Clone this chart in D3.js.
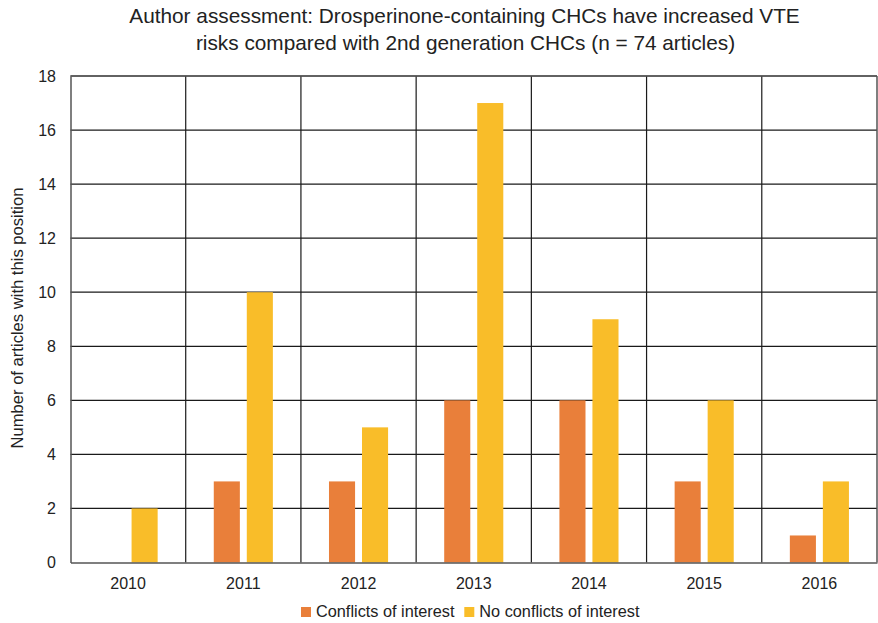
<!DOCTYPE html>
<html>
<head>
<meta charset="utf-8">
<script src="https://cdn.jsdelivr.net/npm/d3@7"></script>
<style>
  html, body { margin: 0; padding: 0; background: #fff; }
  svg { display: block; font-family: "Liberation Sans", Arial, sans-serif; }
</style>
</head>
<body>
<svg id="chart" width="878" height="623"></svg>
<script>
// Articles per year, split by the authors' declared conflicts of interest
const years = ["2010", "2011", "2012", "2013", "2014", "2015", "2016"];
const conflicts = [0, 3, 3, 6, 6, 3, 1];
const noConflicts = [2, 10, 5, 17, 9, 6, 3];
const seriesNames = ["Conflicts of interest", "No conflicts of interest"];
const seriesColors = ["#E97F3A", "#F9BD29"];
const yTicks = [0, 2, 4, 6, 8, 10, 12, 14, 16, 18];

const rows = years.map((y, i) => ({ year: y, values: [conflicts[i], noConflicts[i]] }));

const svg = d3.select("#chart");
const margin = { left: 70.5, right: 1, top: 76, bottom: 60.5 };
const W = 878, H = 623;
const plotR = W - margin.right, plotB = H - margin.bottom;

const x0 = d3.scaleBand().domain(years).range([margin.left, plotR]).padding(0);
const x1 = d3.scaleBand().domain([0, 1]).range([0, x0.bandwidth()])
  .paddingInner(0.21).paddingOuter(0.85);
const y = d3.scaleLinear().domain([0, 18]).range([plotB, margin.top]);

// horizontal gridlines
svg.append("g")
  .selectAll("line").data(yTicks.filter(t => t > 0)).join("line")
  .attr("x1", margin.left).attr("x2", plotR)
  .attr("y1", d => y(d)).attr("y2", d => y(d))
  .attr("stroke", "#1a1a1a").attr("stroke-width", 1.2);

// vertical separators between years
svg.append("g")
  .selectAll("line").data(years.slice(1)).join("line")
  .attr("x1", d => x0(d)).attr("x2", d => x0(d))
  .attr("y1", margin.top).attr("y2", plotB)
  .attr("stroke", "#1a1a1a").attr("stroke-width", 1.2);

// right border
svg.append("line")
  .attr("x1", plotR).attr("x2", plotR).attr("y1", margin.top).attr("y2", plotB)
  .attr("stroke", "#555").attr("stroke-width", 1.5);

// bars
svg.append("g")
  .selectAll("g").data(rows).join("g")
  .attr("transform", d => `translate(${x0(d.year)},0)`)
  .selectAll("rect").data(d => d.values.map((v, k) => ({ v, k }))).join("rect")
  .attr("x", d => x1(d.k)).attr("width", x1.bandwidth())
  .attr("y", d => y(d.v)).attr("height", d => plotB - y(d.v))
  .attr("fill", d => seriesColors[d.k]);

// y axis
const yAxis = svg.append("g")
  .attr("transform", `translate(${margin.left},0)`)
  .call(d3.axisLeft(y).tickValues(yTicks).tickSize(0).tickPadding(14.5));
yAxis.select(".domain").attr("stroke", "#555").attr("stroke-width", 1.5);
yAxis.selectAll("text").attr("font-size", 16).attr("fill", "#222");

// x axis
const xAxis = svg.append("g")
  .attr("transform", `translate(0,${plotB})`)
  .call(d3.axisBottom(x0).tickSize(0).tickPadding(15.5));
xAxis.select(".domain").attr("stroke", "#555").attr("stroke-width", 1.5);
xAxis.selectAll("text").attr("font-size", 16).attr("fill", "#222");

// top border
svg.append("line")
  .attr("x1", margin.left).attr("x2", plotR).attr("y1", margin.top).attr("y2", margin.top)
  .attr("stroke", "#555").attr("stroke-width", 1.5);

// title
const title = svg.append("text")
  .attr("text-anchor", "middle").attr("font-size", 20.8).attr("fill", "#222");
title.append("tspan").attr("x", 464.5).attr("y", 22.7)
  .text("Author assessment: Drosperinone-containing CHCs have increased VTE");
title.append("tspan").attr("x", 465.5).attr("y", 49.5)
  .text("risks compared with 2nd generation CHCs (n = 74 articles)");

// y axis title
svg.append("text")
  .attr("transform", "translate(22.5,318) rotate(-90)")
  .attr("text-anchor", "middle").attr("font-size", 16.6).attr("fill", "#222")
  .text("Number of articles with this position");

// legend
const legendX = [301, 464.3];
const legend = svg.append("g").selectAll("g").data(seriesNames).join("g")
  .attr("transform", (d, i) => `translate(${legendX[i]},607)`);
legend.append("rect").attr("width", 10).attr("height", 10).attr("fill", (d, i) => seriesColors[i]);
legend.append("text").attr("x", 15).attr("y", 10.3).attr("font-size", 16.3).attr("fill", "#222").text(d => d);
</script>
</body>
</html>
